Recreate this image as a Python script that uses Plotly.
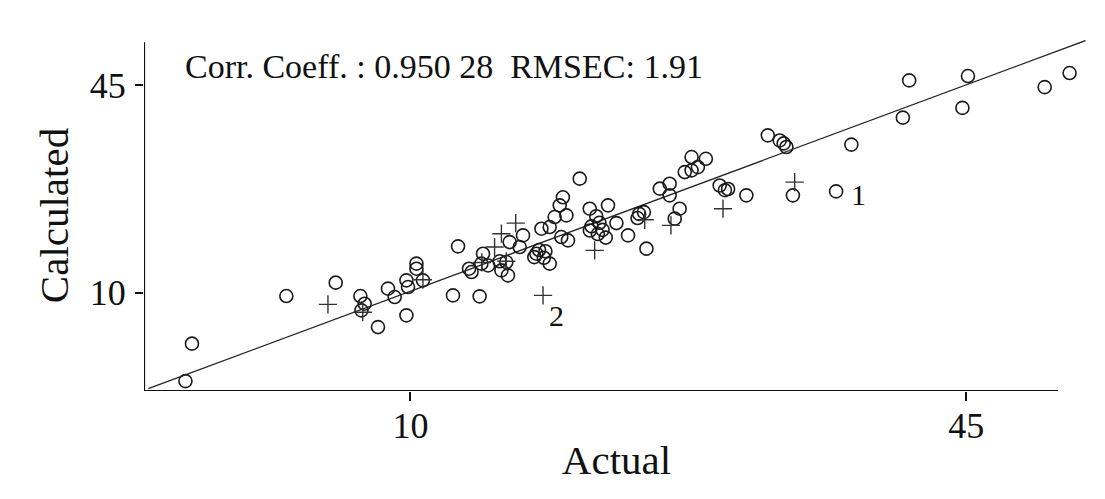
import plotly.graph_objects as go

# ---- data ----
circle_actual = [-4.16, -3.75, 2.19, 5.30, 6.85, 7.12, 6.92, 7.96, 8.59, 9.01,
                 9.75, 9.75, 9.85, 10.38, 10.38, 10.79, 12.68, 13.0, 14.36, 13.69,
                 13.85, 14.57, 14.47, 14.89, 15.62, 16.25, 17.09, 16.88, 16.04, 15.73,
                 16.14, 17.93, 18.1, 17.8, 18.4, 18.5, 18.25, 20.66, 19.6, 19.4,
                 19.82, 19.08, 18.77, 19.5, 19.92, 18.77, 21.29, 22.44, 21.7, 21.9,
                 21.4, 22.1, 21.8, 22.3, 22.97, 21.3, 23.7, 24.86, 24.4, 24.7,
                 24.3, 25.7, 26.32, 26.32, 26.95, 26.64, 27.27, 27.7, 28.1, 27.7,
                 28.6, 29.47, 29.8, 30.0, 31.15, 32.5, 33.25, 33.5, 33.67, 34.08,
                 36.8, 37.76, 41.0, 41.4, 44.75, 45.1, 49.93, 51.5]
circle_calc = [-4.93, 1.39, 9.43, 11.69, 9.43, 8.14, 7.01, 4.19, 10.68, 9.26,
               6.17, 12.08, 10.95, 14.9, 14.05, 12.08, 9.54, 17.82, 9.38, 14.05,
               13.48, 16.58, 14.9, 14.6, 15.3, 18.54, 19.67, 17.7, 15.17, 13.76,
               12.92, 16.58, 17.2, 16.0, 15.9, 17.0, 20.8, 29.25, 26.1, 24.74,
               23.05, 22.77, 21.08, 19.39, 18.83, 14.9, 24.18, 24.74, 22.9, 21.8,
               21.2, 20.6, 19.9, 19.3, 21.75, 20.5, 19.67, 17.43, 23.3, 23.6,
               22.6, 27.56, 28.4, 26.43, 24.18, 22.5, 30.36, 30.65, 31.2, 32.9,
               32.6, 28.1, 27.3, 27.5, 26.43, 36.56, 35.7, 35.2, 34.6, 26.43,
               27.1, 35.0, 39.55, 45.84, 41.2, 46.57, 44.7, 47.08]

plus_actual = [4.81, 7.0, 10.79, 14.5, 15.3, 15.73, 16.63, 16.04, 18.35, 21.6,
               24.75, 26.4, 29.68, 34.19]
plus_calc = [8.02, 6.7, 12.19, 15.1, 17.7, 19.96, 21.75, 15.3, 9.54, 17.14,
             22.3, 21.36, 24.18, 28.67]

fit_x = [-6.5, 52.5]
fit_slope = 0.996
fit_intercept = 0.28
fit_y = [fit_slope * v + fit_intercept for v in fit_x]

x_ticks = [10, 45]
y_ticks = [10, 45]
stats_text = "Corr. Coeff. : 0.950 28&nbsp;&nbsp;RMSEC: 1.91"
outlier_labels = ["1", "2"]
outlier_x = [38.2, 19.2]
outlier_y = [26.6, 6.2]

# ---- layout config ----
X_RANGE = [-6.77, 52.72]
Y_RANGE = [-6.6, 52.66]
X_AXIS_END = 50.77
Y_AXIS_END = 52.3
FONT = "Liberation Serif"
INK = "#111111"

fig = go.Figure()
fig.add_trace(go.Scatter(x=fit_x, y=fit_y, mode="lines",
                         line=dict(color="#222222", width=1.3),
                         showlegend=False, hoverinfo="skip"))
fig.add_trace(go.Scatter(x=circle_actual, y=circle_calc, mode="markers",
                         marker=dict(symbol="circle-open", size=13, color="#1a1a1a",
                                     line=dict(color="#1a1a1a", width=1.6)),
                         showlegend=False, cliponaxis=False))
fig.add_trace(go.Scatter(x=plus_actual, y=plus_calc, mode="markers",
                         marker=dict(symbol="cross-thin-open", size=13, color="#333333",
                                     line=dict(color="#333333", width=1.4)),
                         showlegend=False, cliponaxis=False))

# axis lines (do not span the full plotting domain)
fig.add_shape(type="line", xref="x", yref="y", x0=X_RANGE[0], x1=X_AXIS_END,
              y0=Y_RANGE[0], y1=Y_RANGE[0], line=dict(color=INK, width=2.2))
fig.add_shape(type="line", xref="x", yref="y", x0=X_RANGE[0], x1=X_RANGE[0],
              y0=Y_RANGE[0], y1=Y_AXIS_END, line=dict(color=INK, width=2.2))

fig.add_annotation(text=stats_text, xref="paper", yref="paper",
                   x=0.041, y=0.925, xanchor="left", yanchor="middle",
                   showarrow=False, font=dict(family=FONT, size=34, color=INK))
for lab, lx, ly in zip(outlier_labels, outlier_x, outlier_y):
    fig.add_annotation(text=lab, x=lx, y=ly, xref="x", yref="y",
                       showarrow=False, font=dict(family=FONT, size=30, color=INK))

# page body has an 8px margin, so the figure is sized to fit the 1105x499 window
fig.update_layout(
    width=1097, height=491,
    margin=dict(l=136, r=16, t=32, b=108),
    paper_bgcolor="white", plot_bgcolor="white",
    font=dict(family=FONT, color=INK),
)
fig.update_xaxes(range=X_RANGE, showgrid=False, zeroline=False, showline=False,
                 automargin=False,
                 tickvals=x_ticks, ticks="outside", ticklen=9, tickwidth=1.8,
                 tickcolor=INK, tickfont=dict(family=FONT, size=36, color=INK),
                 ticklabelstandoff=-6,
                 title=dict(text="Actual", font=dict(family=FONT, size=41, color=INK),
                            standoff=0))
fig.update_yaxes(range=Y_RANGE, showgrid=False, zeroline=False, showline=False,
                 automargin=False,
                 tickvals=y_ticks, ticks="outside", ticklen=8, tickwidth=1.8,
                 tickcolor=INK, tickfont=dict(family=FONT, size=36, color=INK),
                 ticklabelstandoff=2,
                 title=dict(text="Calculated", font=dict(family=FONT, size=41, color=INK),
                            standoff=8))

fig.write_html("out.html")
